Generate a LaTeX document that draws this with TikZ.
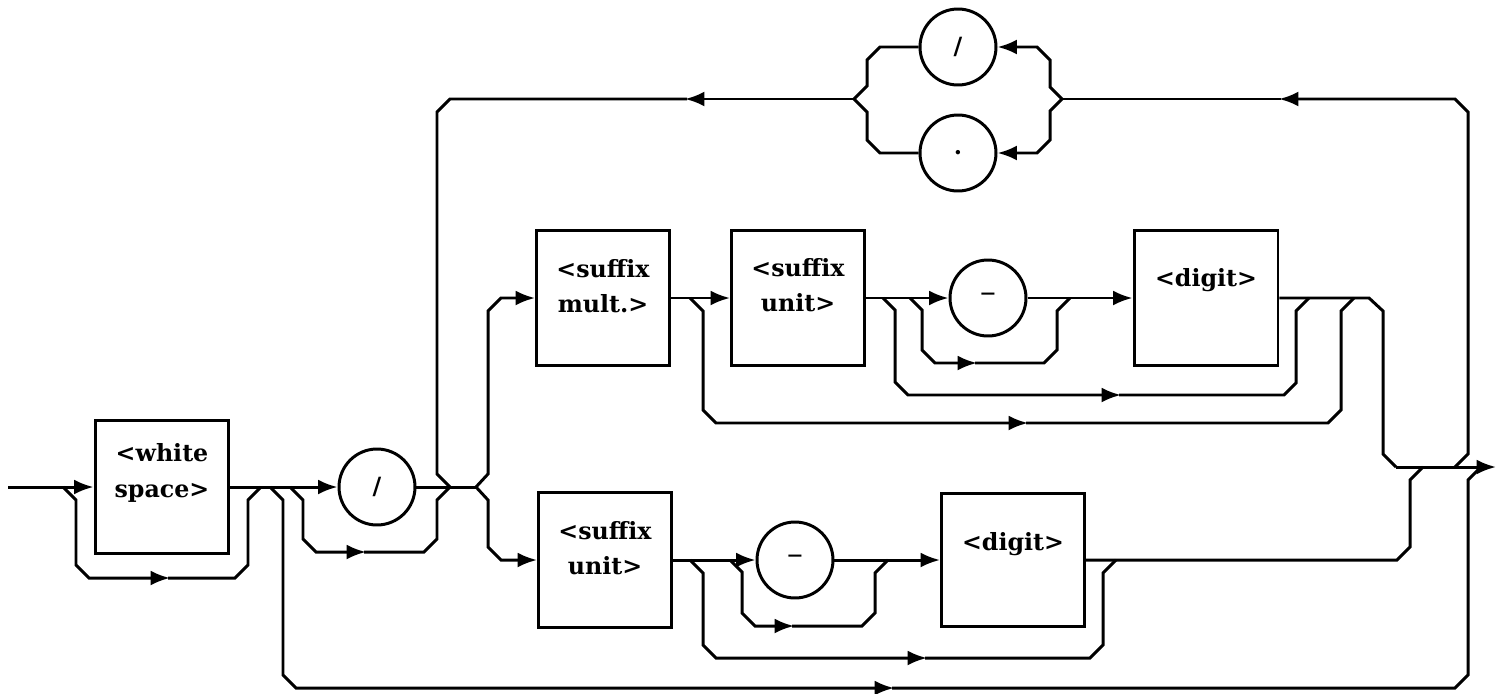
\documentclass[tikz,border=0pt]{standalone}
\usepackage{fontspec}
\setmainfont{DejaVu Serif}
\usepackage{tikz}
\usetikzlibrary{arrows.meta}

\begin{document}
\begin{tikzpicture}[
    x=0.02cm, y=-0.02cm,
    every node/.style={font=\fontsize{13.5}{20}\selectfont\bfseries},
    box/.style={draw, line width=1.7pt, minimum width=2.66cm, minimum height=2.72cm, inner sep=0pt},
    term/.style={draw, circle, line width=1.7pt, minimum size=1.52cm, inner sep=0pt},
    lbl/.style={align=center, inner sep=0pt},
    rail/.style={draw, line width=1.7pt},
    line/.style={rail, -{Latex[length=11pt, width=8.5pt]}}
]
\useasboundingbox (0,0) rectangle (1497,693);

% -------- Entry: white space and slash --------
\node[box, minimum width=2.68cm, minimum height=2.66cm] (ws) at (162,487) {};
\node[lbl] (wstxt) at (162,473) {<white\\space>};
\node[term] (slash) at (377,487) {/};

% -------- Upper row: mult -> unit -> dash -> digit --------
\node[box] (mult) at (603,298) {};
\node[lbl] (multtxt) at (603,286) {<suffix\\mult.>};
\node[box] (unitA) at (798,298) {};
\node[lbl] (unitAtxt) at (798,285) {<suffix\\unit>};
\node[term] (dashA) at (988,298) {\fontsize{18}{20}\selectfont\mdseries\textendash};
\node[box, minimum width=2.88cm] (digitA) at (1206,298) {};
\node[lbl] (digitAtxt) at (1206,280) {<digit>};

% -------- Lower row: unit -> dash -> digit --------
\node[box, minimum height=2.70cm] (unitB) at (605,560) {};
\node[lbl] (unitBtxt) at (605,548) {<suffix\\unit>};
\node[term] (dashB) at (795,560) {\fontsize{18}{20}\selectfont\mdseries\textendash};
\node[box, minimum width=2.86cm, minimum height=2.66cm] (digitB) at (1013,560) {};
\node[lbl] (digitBtxt) at (1013,544) {<digit>};

% -------- Loop-back separators --------
\node[term] (slashT) at (958,47) {/};
\node[term] (dotT) at (958,153) {.};

% -------- Junctions --------
\coordinate (in) at (8,487);
\coordinate (out) at (1496,467);
\coordinate (jws1) at (63,487);
\coordinate (jws2) at (261,487);
\coordinate (jbot) at (270,487);
\coordinate (jsl1) at (290,487);
\coordinate (jsl2) at (450,487);
\coordinate (jsplit) at (476,487);
\coordinate (jm) at (690,298);
\coordinate (ju) at (883,298);
\coordinate (ju2) at (910,298);
\coordinate (jmA) at (1070,298);
\coordinate (jmB) at (1309,298);
\coordinate (jmC) at (1354,298);
\coordinate (jl) at (690,560);
\coordinate (jl2) at (730,560);
\coordinate (jlA) at (888,560);
\coordinate (jlB) at (1116,560);
\coordinate (xA) at (1396,467);
\coordinate (xB) at (1423,467);
\coordinate (xC) at (1455,467);
\coordinate (xD) at (1481,467);
\coordinate (tR) at (1062,99);
\coordinate (tL) at (854,99);

% -------- Main flow --------
\draw[line] (in) -- (ws.west);
\draw[line] (ws.east) -- (slash.west);
\draw[rail] (slash.east) -- (jsplit);
\draw[line] (jsplit) -- (488,474) -- (488,311) -- (501,298) -- (mult.west);
\draw[line] (jsplit) -- (488,500) -- (488,547) -- (501,560) -- (unitB.west);
\draw[line] (mult.east) -- (unitA.west);
\draw[line] (unitA.east) -- (dashA.west);
\draw[line] (dashA.east) -- (digitA.west);
\draw[rail] (digitA.east) -- (1369,298) -- (1383,311) -- (1383,454) -- (xA);
\draw[line] (unitB.east) -- (dashB.west);
\draw[line] (dashB.east) -- (digitB.west);
\draw[rail] (digitB.east) -- (1397,560) -- (1410,547) -- (1410,480) -- (xB);
\draw[line] (xA) -- (out);

% -------- Bypasses --------
\draw[line] (jws1) -- (76,500) -- (76,565) -- (89,578) -- (170,578);
\draw[rail] (168,578) -- (235,578) -- (248,565) -- (248,500) -- (jws2);
\draw[line] (jbot) -- (283,500) -- (283,675) -- (296,688) -- (894,688);
\draw[rail] (892,688) -- (1455,688) -- (1468,675) -- (1468,480) -- (xD);
\draw[line] (jsl1) -- (303,500) -- (303,539) -- (316,552) -- (366,552);
\draw[rail] (364,552) -- (424,552) -- (437,539) -- (437,500) -- (jsl2);
\draw[line] (jm) -- (703,311) -- (703,410) -- (716,423) -- (1028,423);
\draw[rail] (1026,423) -- (1328,423) -- (1341,410) -- (1341,311) -- (jmC);
\draw[line] (ju) -- (895,310) -- (895,382) -- (908,395) -- (1121,395);
\draw[rail] (1119,395) -- (1284,395) -- (1296,383) -- (1296,311) -- (jmB);
\draw[line] (ju2) -- (922,310) -- (922,350) -- (935,363) -- (977,363);
\draw[rail] (975,363) -- (1044,363) -- (1057,350) -- (1057,311) -- (jmA);
\draw[line] (jl) -- (703,573) -- (703,645) -- (716,658) -- (927,658);
\draw[rail] (925,658) -- (1090,658) -- (1103,645) -- (1103,573) -- (jlB);
\draw[line] (jl2) -- (742,572) -- (742,613) -- (755,626) -- (794,626);
\draw[rail] (792,626) -- (862,626) -- (875,613) -- (875,573) -- (jlA);

% -------- Loop back over the top --------
\draw[line] (xC) -- (1468,454) -- (1468,112) -- (1455,99) -- (1279,99);
\draw[rail] (1281,99) -- (tR);
\draw[line] (tR) -- (1050,87) -- (1050,60) -- (1037,47) -- (slashT.east);
\draw[line] (tR) -- (1050,111) -- (1050,140) -- (1037,153) -- (dotT.east);
\draw[rail] (slashT.west) -- (880,47) -- (867,60) -- (867,86) -- (tL);
\draw[rail] (dotT.west) -- (880,153) -- (867,140) -- (867,112) -- (tL);
\draw[line] (tL) -- (685,99);
\draw[rail] (687,99) -- (450,99) -- (437,112) -- (437,474) -- (jsl2);

\end{tikzpicture}
\end{document}
